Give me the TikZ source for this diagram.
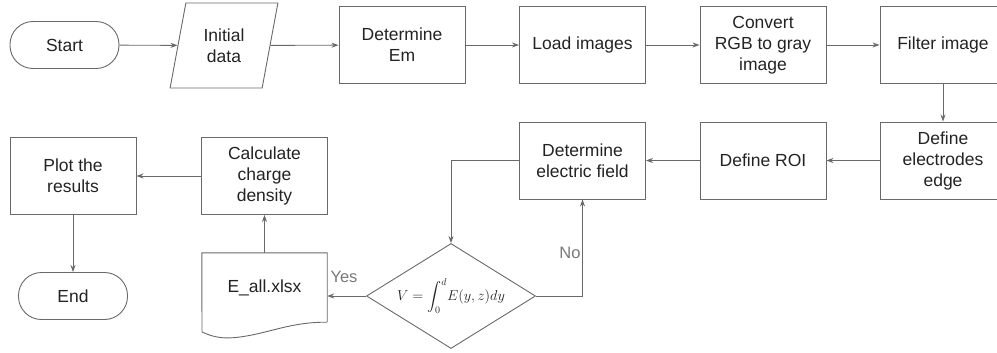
\documentclass[tikz,border=0pt]{standalone}
\usepackage{amsmath,amssymb}
\usepackage{fontspec}
\setmainfont{Liberation Sans}
\usepackage{tikz}
\usetikzlibrary{shapes.geometric,arrows.meta,positioning,calc}
\definecolor{linegray}{RGB}{105,105,105}
\definecolor{textgray}{RGB}{35,35,35}
\definecolor{labelgray}{RGB}{120,120,120}

\begin{document}
\begin{tikzpicture}[x=1pt,y=-1pt,
    box/.style={draw=linegray,line width=0.9pt,text=textgray,align=center,
        minimum width=126pt,minimum height=77pt,inner sep=2pt,
        font=\fontsize{17.5}{21}\selectfont},
    term/.style={box,rounded corners=23pt,minimum width=109pt,minimum height=47pt},
    flow/.style={draw=linegray,line width=0.9pt,-{Stealth[length=7pt,width=5pt]}},
    lbl/.style={text=labelgray,font=\fontsize{16.5}{20}\selectfont}]
                        \clip (0,0) rectangle (997,353);
                        \node[term] (start) at (64.5,45) {Start};
                        \node[box,trapezium,trapezium left angle=76,trapezium right angle=104,
                            trapezium stretches=true,minimum width=108pt,minimum height=85pt,
                            inner sep=0pt] (init) at (224,45.5) {Initial\\data};
                        \node[box] (detem) at (402,45) {Determine\\Em};
                        \node[box] (load) at (582.5,45) {Load images};
                        \node[box] (conv) at (763,45) {Convert\\RGB to gray\\image};
                        \node[box] (filt) at (943,45) {Filter image};
                        \node[box] (edge) at (943,160.5) {Define\\electrodes\\edge};
                        \node[box] (roi) at (763,160.5) {Define ROI};
                        \node[box] (field) at (582.5,160.5) {Determine\\electric field};
                        \node[draw=linegray,line width=0.9pt,diamond,shape aspect=1.61,
                            minimum width=169pt,minimum height=105pt,inner sep=0pt,text=textgray,
                            font=\fontsize{14}{17}\selectfont] (dec) at (451,296)
                            {$\displaystyle V=\int_0^d\! E(y,z)dy$};
                        \node[text=textgray,font=\fontsize{17.5}{21}\selectfont,
                            minimum width=125pt,minimum height=69pt] (file) at (264.5,287.5) {E\_all.xlsx};
                        \draw[linegray,line width=0.9pt] (file.south east) -- (file.north east)
                            -- (file.north west) -- (202,332)
                            .. controls (215,338) and (225,339) .. (240,337)
                            .. controls (270,333) and (290,322) .. (file.south east);
                        \node[box] (calc) at (264.5,176) {Calculate\\charge\\density};
                        \node[box] (plot) at (73,176) {Plot the\\results};
                        \node[term] (end) at (73,296) {End};
                        \draw[flow] (start) -- (init);
                        \draw[flow] (init) -- (detem);
                        \draw[flow] (detem) -- (load);
                        \draw[flow] (load) -- (conv);
                        \draw[flow] (conv) -- (filt);
                        \draw[flow] (filt) -- (edge);
                        \draw[flow] (edge) -- (roi);
                        \draw[flow] (roi) -- (field);
                        \draw[flow] (field.west) -| (dec.north);
                        \draw[flow] (dec.east) -| (field.south);
                        \node[lbl] (no) at (570,253) {No};
                        \draw[flow] (dec.west) -- (dec.west -| file.east);
                        \node[lbl] (yes) at (344,277) {Yes};
                        \draw[flow] (file.north) -- (calc.south);
                        \draw[flow] (calc) -- (plot);
                        \draw[flow] (plot) -- (end);
                    \end{tikzpicture}
\end{document}
